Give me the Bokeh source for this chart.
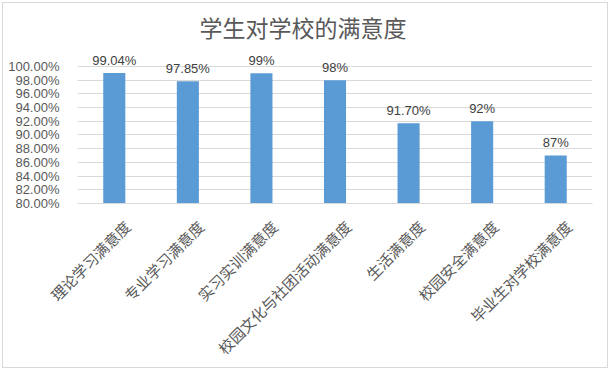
import math
from bokeh.plotting import figure
from bokeh.models import (Range1d, FixedTicker, PrintfTickFormatter,
                          LinearAxis, ColumnDataSource)
from bokeh.core.properties import value
from bokeh.embed import file_html
from bokeh.resources import INLINE

title_text = "学生对学校的满意度"
categories = ["理论学习满意度", "专业学习满意度", "实习实训满意度",
              "校园文化与社团活动满意度", "生活满意度", "校园安全满意度",
              "毕业生对学校满意度"]
values = [99.04, 97.85, 99.0, 98.0, 91.70, 92.0, 87.0]
value_labels = ["99.04%", "97.85%", "99%", "98%", "91.70%", "92%", "87%"]
y_ticks = [80, 82, 84, 86, 88, 90, 92, 94, 96, 98, 100]

n = len(categories)
pos = [i + 0.5 for i in range(n)]  # category slot centres
src = ColumnDataSource(dict(x=pos, val=values, lab=value_labels))

p = figure(width=606, height=366, output_backend="svg", toolbar_location=None,
           x_range=Range1d(0, n),
           y_range=Range1d(80, 103.2),
           min_border_left=74, min_border_right=17,
           min_border_top=41, min_border_bottom=166)
p.background_fill_color = "white"
p.border_fill_color = "white"
p.outline_line_color = None
p.styles = {"border": "1px solid #d9d9d9", "margin": "2px"}

p.title.text = title_text
p.title.align = "left"
p.title.offset = 122
p.title.standoff = 2
p.title.text_font = "Noto Sans CJK SC"
p.title.text_font_size = "23px"
p.title.text_font_style = "normal"
p.title.text_color = "#595959"

p.vbar(x="x", top="val", bottom=80, width=0.3, source=src,
       fill_color="#5b9bd5", line_color=None)
p.text(x="x", y="val", text="lab", source=src, text_align="center",
       text_baseline="alphabetic", y_offset=-13,
       text_font=value("Liberation Sans"), text_font_size="13px",
       text_color="#404040")

p.yaxis.ticker = FixedTicker(ticks=y_ticks)
p.yaxis.formatter = PrintfTickFormatter(format="%.2f%%")
p.yaxis.axis_line_color = None
p.yaxis.major_tick_line_color = None
p.yaxis.minor_tick_line_color = None
p.yaxis.major_label_standoff = 12
p.yaxis.major_label_text_font = "Liberation Sans"
p.yaxis.major_label_text_font_size = "13px"
p.yaxis.major_label_text_color = "#595959"

# main x axis: only the baseline
p.xaxis.ticker = FixedTicker(ticks=[])
p.xaxis.axis_line_color = "#d9d9d9"
p.xaxis.major_tick_line_color = None
p.xaxis.minor_tick_line_color = None
p.xaxis.major_label_text_font_size = "0px"
p.xaxis.major_label_standoff = 0

# label axis, shifted slightly right of the bar centres (Excel-style anchoring)
shift = 0.177
p.extra_x_ranges = {"lab": Range1d(-shift, n - shift)}
lab_axis = LinearAxis(x_range_name="lab", ticker=FixedTicker(ticks=pos),
                      major_label_overrides={t: c for t, c in zip(pos, categories)})
lab_axis.axis_line_color = None
lab_axis.major_tick_line_color = None
lab_axis.minor_tick_line_color = None
lab_axis.major_label_orientation = math.pi / 4
lab_axis.major_label_standoff = 14
lab_axis.major_label_text_font = "Noto Sans CJK SC"
lab_axis.major_label_text_font_size = "15px"
lab_axis.major_label_text_color = "#595959"
p.add_layout(lab_axis, "below")

p.xgrid.grid_line_color = None
p.ygrid.grid_line_color = "#d9d9d9"
p.ygrid.ticker = FixedTicker(ticks=y_ticks)

open("out.html", "w").write(file_html(p, INLINE))
